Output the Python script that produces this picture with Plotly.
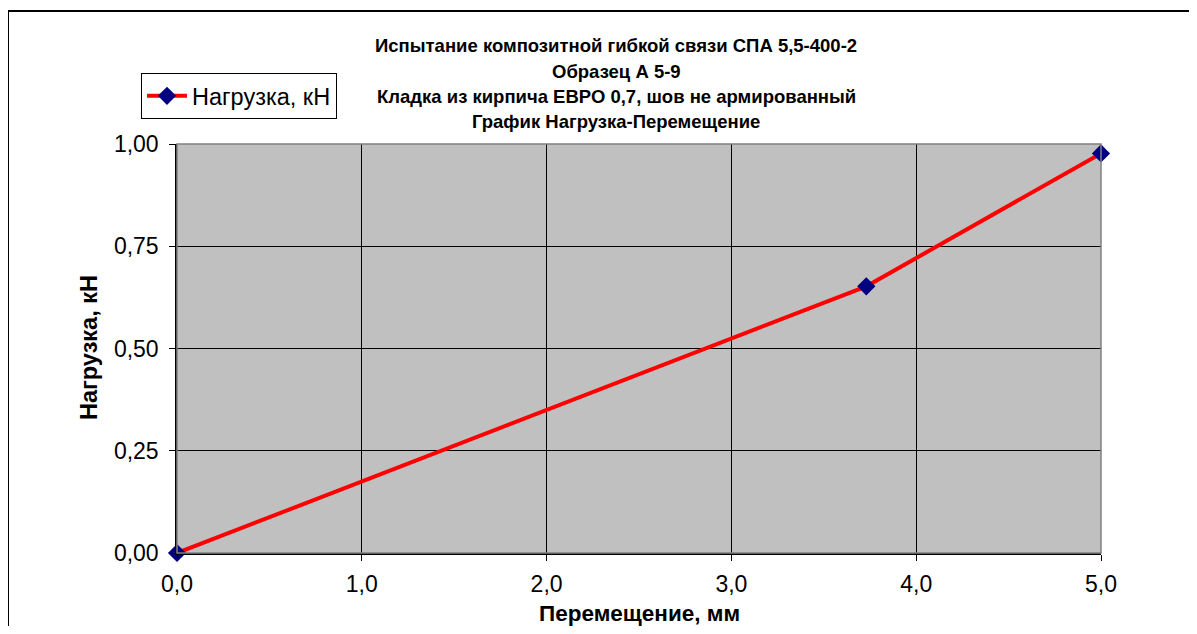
import plotly.graph_objects as go

displacement_mm = [0.0, 3.73, 5.0]
load_kn = [0.0, 0.652, 0.977]
series_name = "Нагрузка, кН"
title_lines = [
    "Испытание композитной гибкой связи СПА 5,5-400-2",
    "Образец А 5-9",
    "Кладка из кирпича ЕВРО 0,7, шов не армированный",
    "График Нагрузка-Перемещение",
]
x_title = "Перемещение, мм"
y_title = "Нагрузка, кН"
x_ticks = [0, 1, 2, 3, 4, 5]
y_ticks = [0, 0.25, 0.5, 0.75, 1.0]

FONT = "Liberation Sans, Arial, sans-serif"
OFF = 8  # page body margin
W, H = 1197 - 2 * OFF, 634 - 2 * OFF
L, T = 177 - OFF, 144 - OFF
pw, ph = 924, 409
R, B = W - L - pw, H - T - ph

def px_x(p):
    return (p - OFF - L) / pw

def px_y(p):
    return (T + ph - (p - OFF)) / ph

fig = go.Figure()
fig.add_trace(go.Scatter(
    x=displacement_mm, y=load_kn, name=series_name, mode="lines+markers",
    line=dict(color="#FF0000", width=4),
    marker=dict(symbol="diamond", size=14, color="#000080", line=dict(width=0)),
    cliponaxis=False,
))

annotations = []
for i, t in enumerate(title_lines):
    annotations.append(dict(
        text=f"<b>{t}</b>", x=px_x(616), y=px_y(46 + i * 25.2),
        xref="paper", yref="paper", showarrow=False,
        xanchor="center", yanchor="middle",
        font=dict(family=FONT, size=18.5, color="black"),
    ))
annotations.append(dict(
    text=f"<b>{x_title}</b>", x=px_x(639), y=px_y(613),
    xref="paper", yref="paper", showarrow=False, xanchor="center", yanchor="middle",
    font=dict(family=FONT, size=22.5, color="black"),
))
annotations.append(dict(
    text=f"<b>{y_title}</b>", x=px_x(89), y=px_y(348), textangle=-90,
    xref="paper", yref="paper", showarrow=False, xanchor="center", yanchor="middle",
    font=dict(family=FONT, size=23.5, color="black"),
))

shapes = [
    dict(type="rect", xref="paper", yref="paper", x0=0, x1=1, y0=0, y1=1,
         line=dict(color="#808080", width=1.5), layer="above"),
    # outer chart border (top and left edges visible in the view)
    dict(type="line", xref="paper", yref="paper",
         x0=px_x(8), x1=px_x(1300), y0=px_y(11), y1=px_y(11),
         line=dict(color="black", width=2)),
    dict(type="line", xref="paper", yref="paper",
         x0=px_x(8), x1=px_x(8), y0=px_y(11), y1=px_y(700),
         line=dict(color="black", width=2)),
]

fig.update_layout(
    width=W, height=H,
    margin=dict(l=L, r=R, t=T, b=B),
    paper_bgcolor="white", plot_bgcolor="#C0C0C0",
    separators=", ",
    showlegend=True,
    legend=dict(
        x=px_x(141), y=px_y(73), xanchor="left", yanchor="top",
        bordercolor="black", borderwidth=1, bgcolor="white",
        font=dict(family=FONT, size=23.5, color="black"),
        itemwidth=40, tracegroupgap=0,
    ),
    annotations=annotations,
    shapes=shapes,
    xaxis=dict(
        range=[0, 5], tickvals=x_ticks, tickformat=".1f",
        showgrid=True, gridcolor="black", gridwidth=1,
        showline=True, linecolor="black", linewidth=1.5,
        ticks="outside", ticklen=6, tickcolor="black",
        tickfont=dict(family=FONT, size=23, color="black"),
        ticklabelstandoff=4,
        zeroline=False,
    ),
    yaxis=dict(
        range=[0, 1], tickvals=y_ticks, tickformat=".2f",
        showgrid=True, gridcolor="black", gridwidth=1,
        showline=True, linecolor="black", linewidth=1.5,
        ticks="outside", ticklen=6, tickcolor="black",
        tickfont=dict(family=FONT, size=23, color="black"),
        ticklabelstandoff=6,
        zeroline=False,
    ),
)

fig.write_html("out.html")
